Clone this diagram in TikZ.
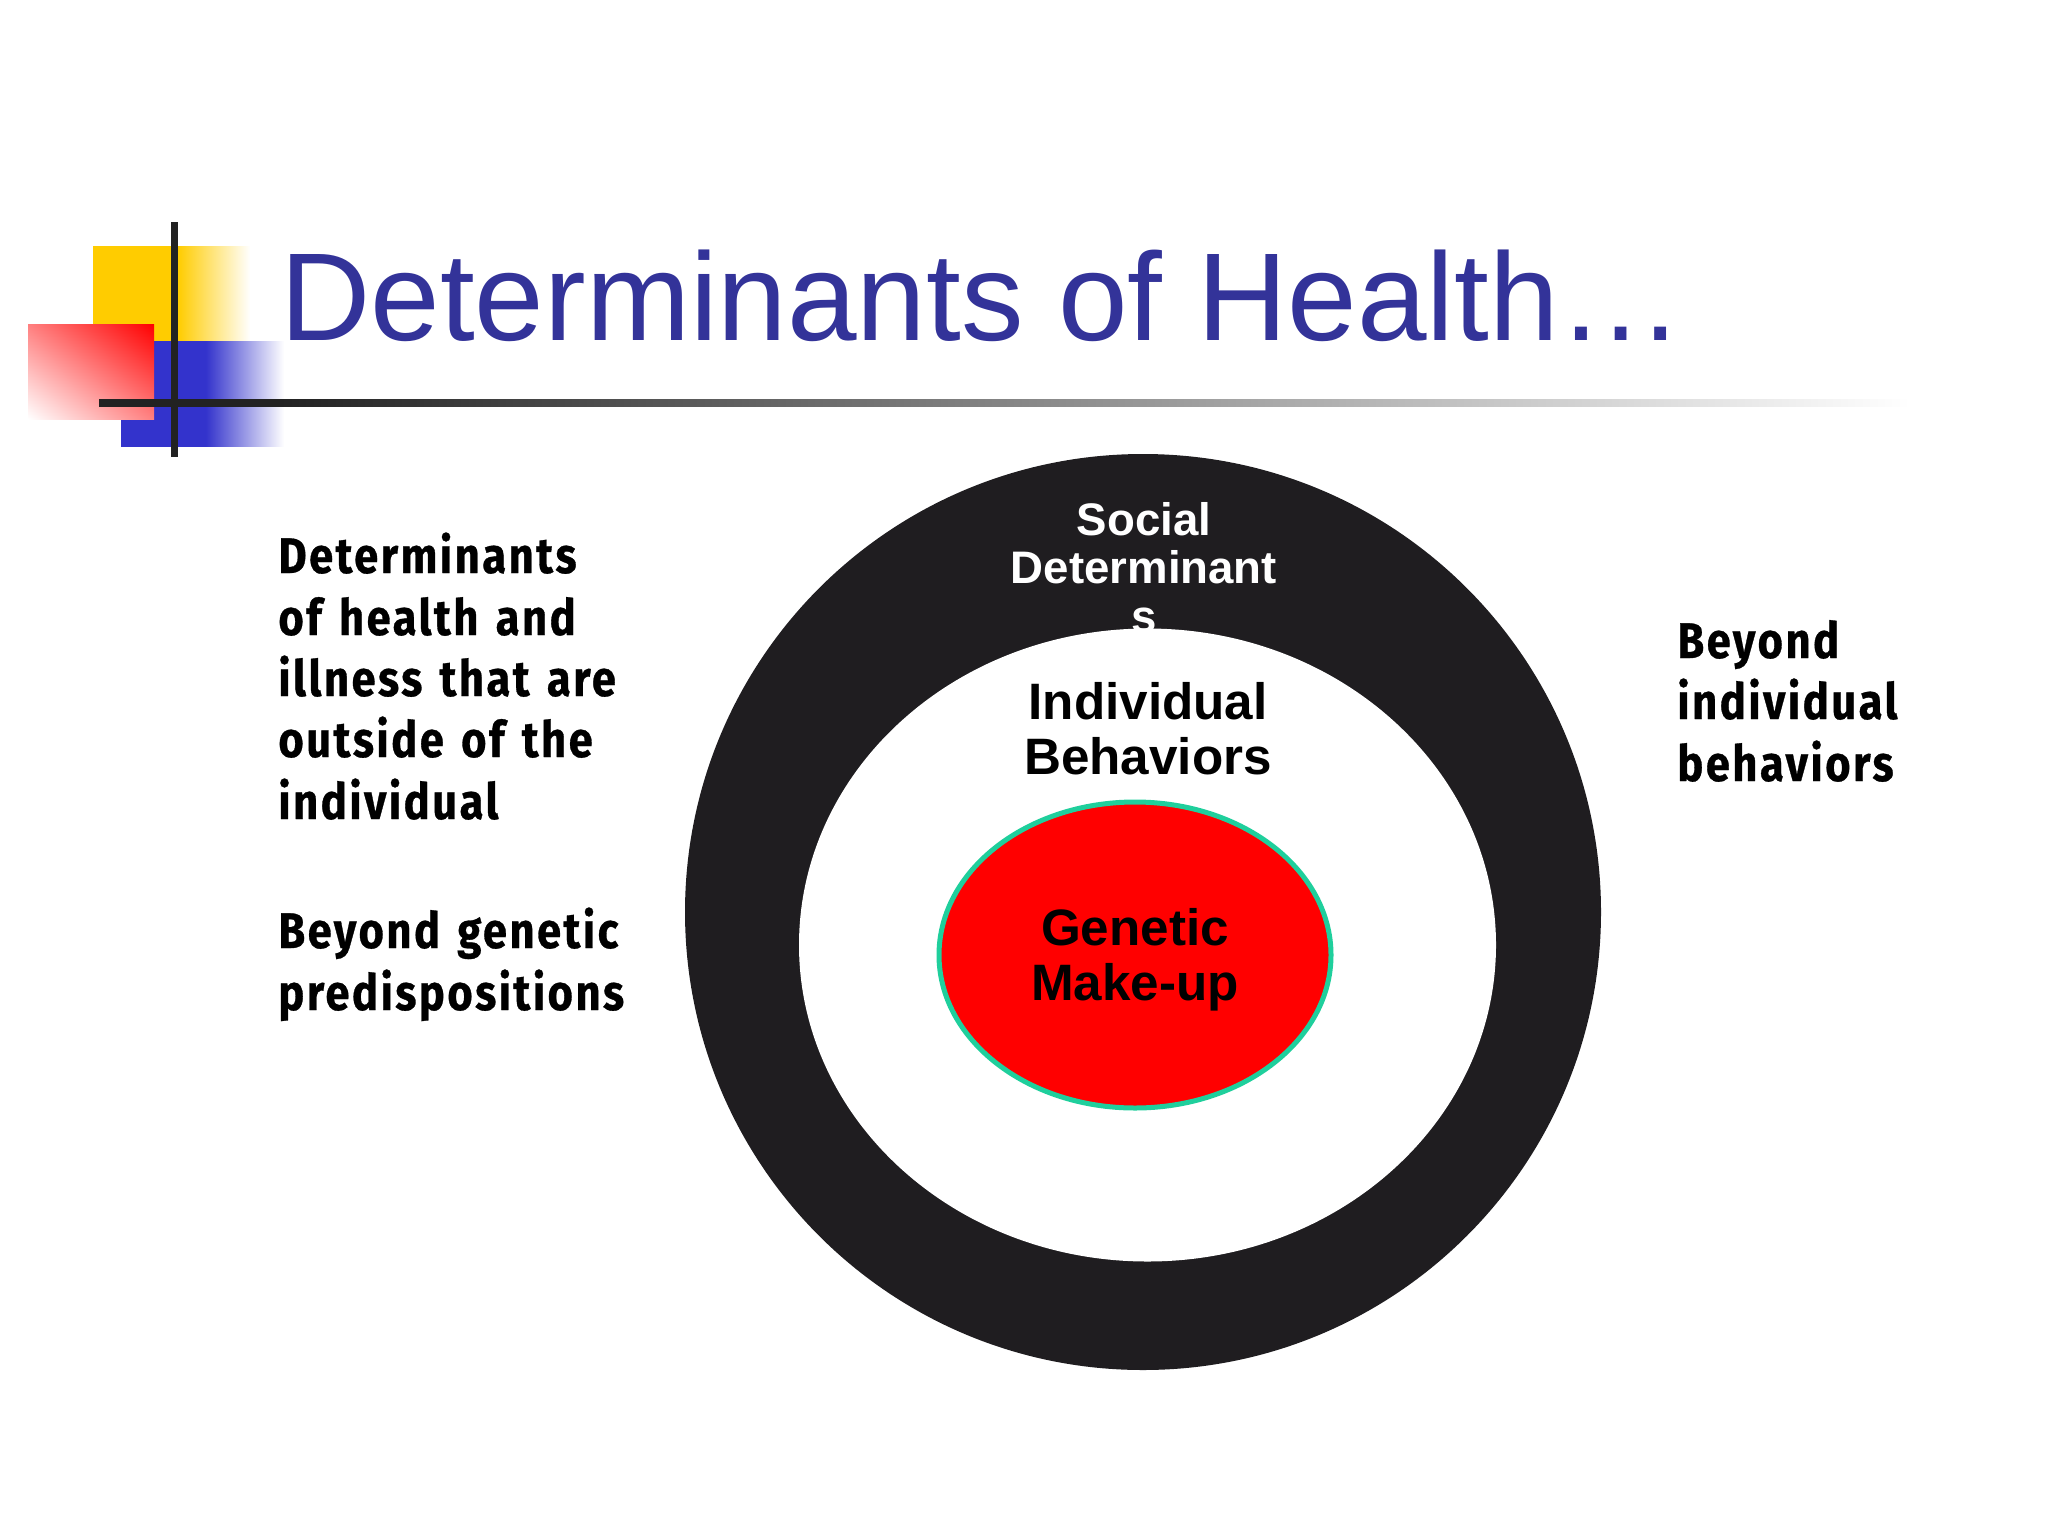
\documentclass[tikz,border=0pt]{standalone}
\usepackage{fontspec}
\usetikzlibrary{shadings}
\setmainfont{Liberation Sans}
\newfontfamily\bodyfont[FakeStretch=0.87,LetterSpace=5,WordSpace=1.35,FakeBold=0.6]{Fira Sans}
\definecolor{titleblue}{HTML}{333399}
\definecolor{ringblack}{HTML}{1F1D20}
\definecolor{yel}{HTML}{FFCC00}
\definecolor{blu}{HTML}{3333CC}
\definecolor{linedark}{HTML}{222222}
\definecolor{teal}{HTML}{1FCF9C}
\pgfdeclarehorizontalshading{yelfade}{100bp}{color(0bp)=(yel);color(25bp)=(yel);color(52bp)=(yel);color(75bp)=(white);color(100bp)=(white)}
\pgfdeclarehorizontalshading{blufade}{100bp}{color(0bp)=(blu);color(25bp)=(blu);color(51bp)=(blu);color(75bp)=(white);color(100bp)=(white)}
\pgfdeclarehorizontalshading{rulefade}{100bp}{color(0bp)=(linedark);color(25bp)=(linedark);color(30bp)=(linedark);color(75bp)=(white);color(100bp)=(white)}
\tikzset{
  px/.style={x=0.5pt,y=-0.5pt},
  sidetext/.style={anchor=base west,inner sep=0pt,font=\bodyfont\bfseries\fontsize{25}{30.7}\selectfont,align=left,text=black},
  ringlabel/.style={anchor=base,inner sep=0pt,font=\bfseries\fontsize{#1}{#1}\selectfont},
}
\begin{document}
\begin{tikzpicture}[px]
\useasboundingbox (0,0) rectangle (2048,1536);
\fill[white] (0,0) rectangle (2048,1536);
% logo
\shade[shading=yelfade] (93,246) rectangle (250,341);
\shade[shading=blufade] (121,341) rectangle (284,446);
\shade[shading=bilinear interpolation,lower left=white,upper right=red,upper left=red!50!white,lower right=red!50!white] (28,324) rectangle (154,419);
\shade[shading=rulefade] (99,399.5) rectangle (1910,406.5);
\fill[linedark] (171,222) rectangle (178,457);
% title
\node[anchor=base west,inner sep=0pt,text=titleblue,font=\fontsize{62.5}{62.5}\selectfont] (title) at (280,340) {Determinants of Health…};
% rings
\fill[ringblack] (1143,912) ellipse [x radius=458,y radius=458];
\node[ringlabel=22.8,text=white] (soc1) at (1144,535) {Social};
\node[ringlabel=22.8,text=white] (soc2) at (1144,583) {Determinant};
\node[ringlabel=22.8,text=white] (soc3) at (1144,632) {s};
\fill[white] (1147.5,945) ellipse [x radius=348.5,y radius=316.5];
\node[ringlabel=25.6] (ind1) at (1148,719) {Individual};
\node[ringlabel=25.6] (ind2) at (1148,774) {Behaviors};
\draw[teal,fill=red,line width=2.5pt] (1135,955) ellipse [x radius=196,y radius=153];
\node[ringlabel=25.6] (gen1) at (1135,945) {Genetic};
\node[ringlabel=25.6] (gen2) at (1135,1000) {Make-up};
% side text
\node[sidetext] (a1) at (278,573) {Determinants};
\node[sidetext] (a2) at (278,635) {of health and};
\node[sidetext] (a3) at (278,696) {illness that are};
\node[sidetext] (a4) at (278,757) {outside of the};
\node[sidetext] (a5) at (278,819) {individual};
\node[sidetext] (b1) at (278,948) {Beyond genetic};
\node[sidetext] (b2) at (278,1010) {predispositions};
\node[sidetext] (c1) at (1677,658) {Beyond};
\node[sidetext] (c2) at (1677,719) {individual};
\node[sidetext] (c3) at (1677,781) {behaviors};
\end{tikzpicture}
\end{document}
